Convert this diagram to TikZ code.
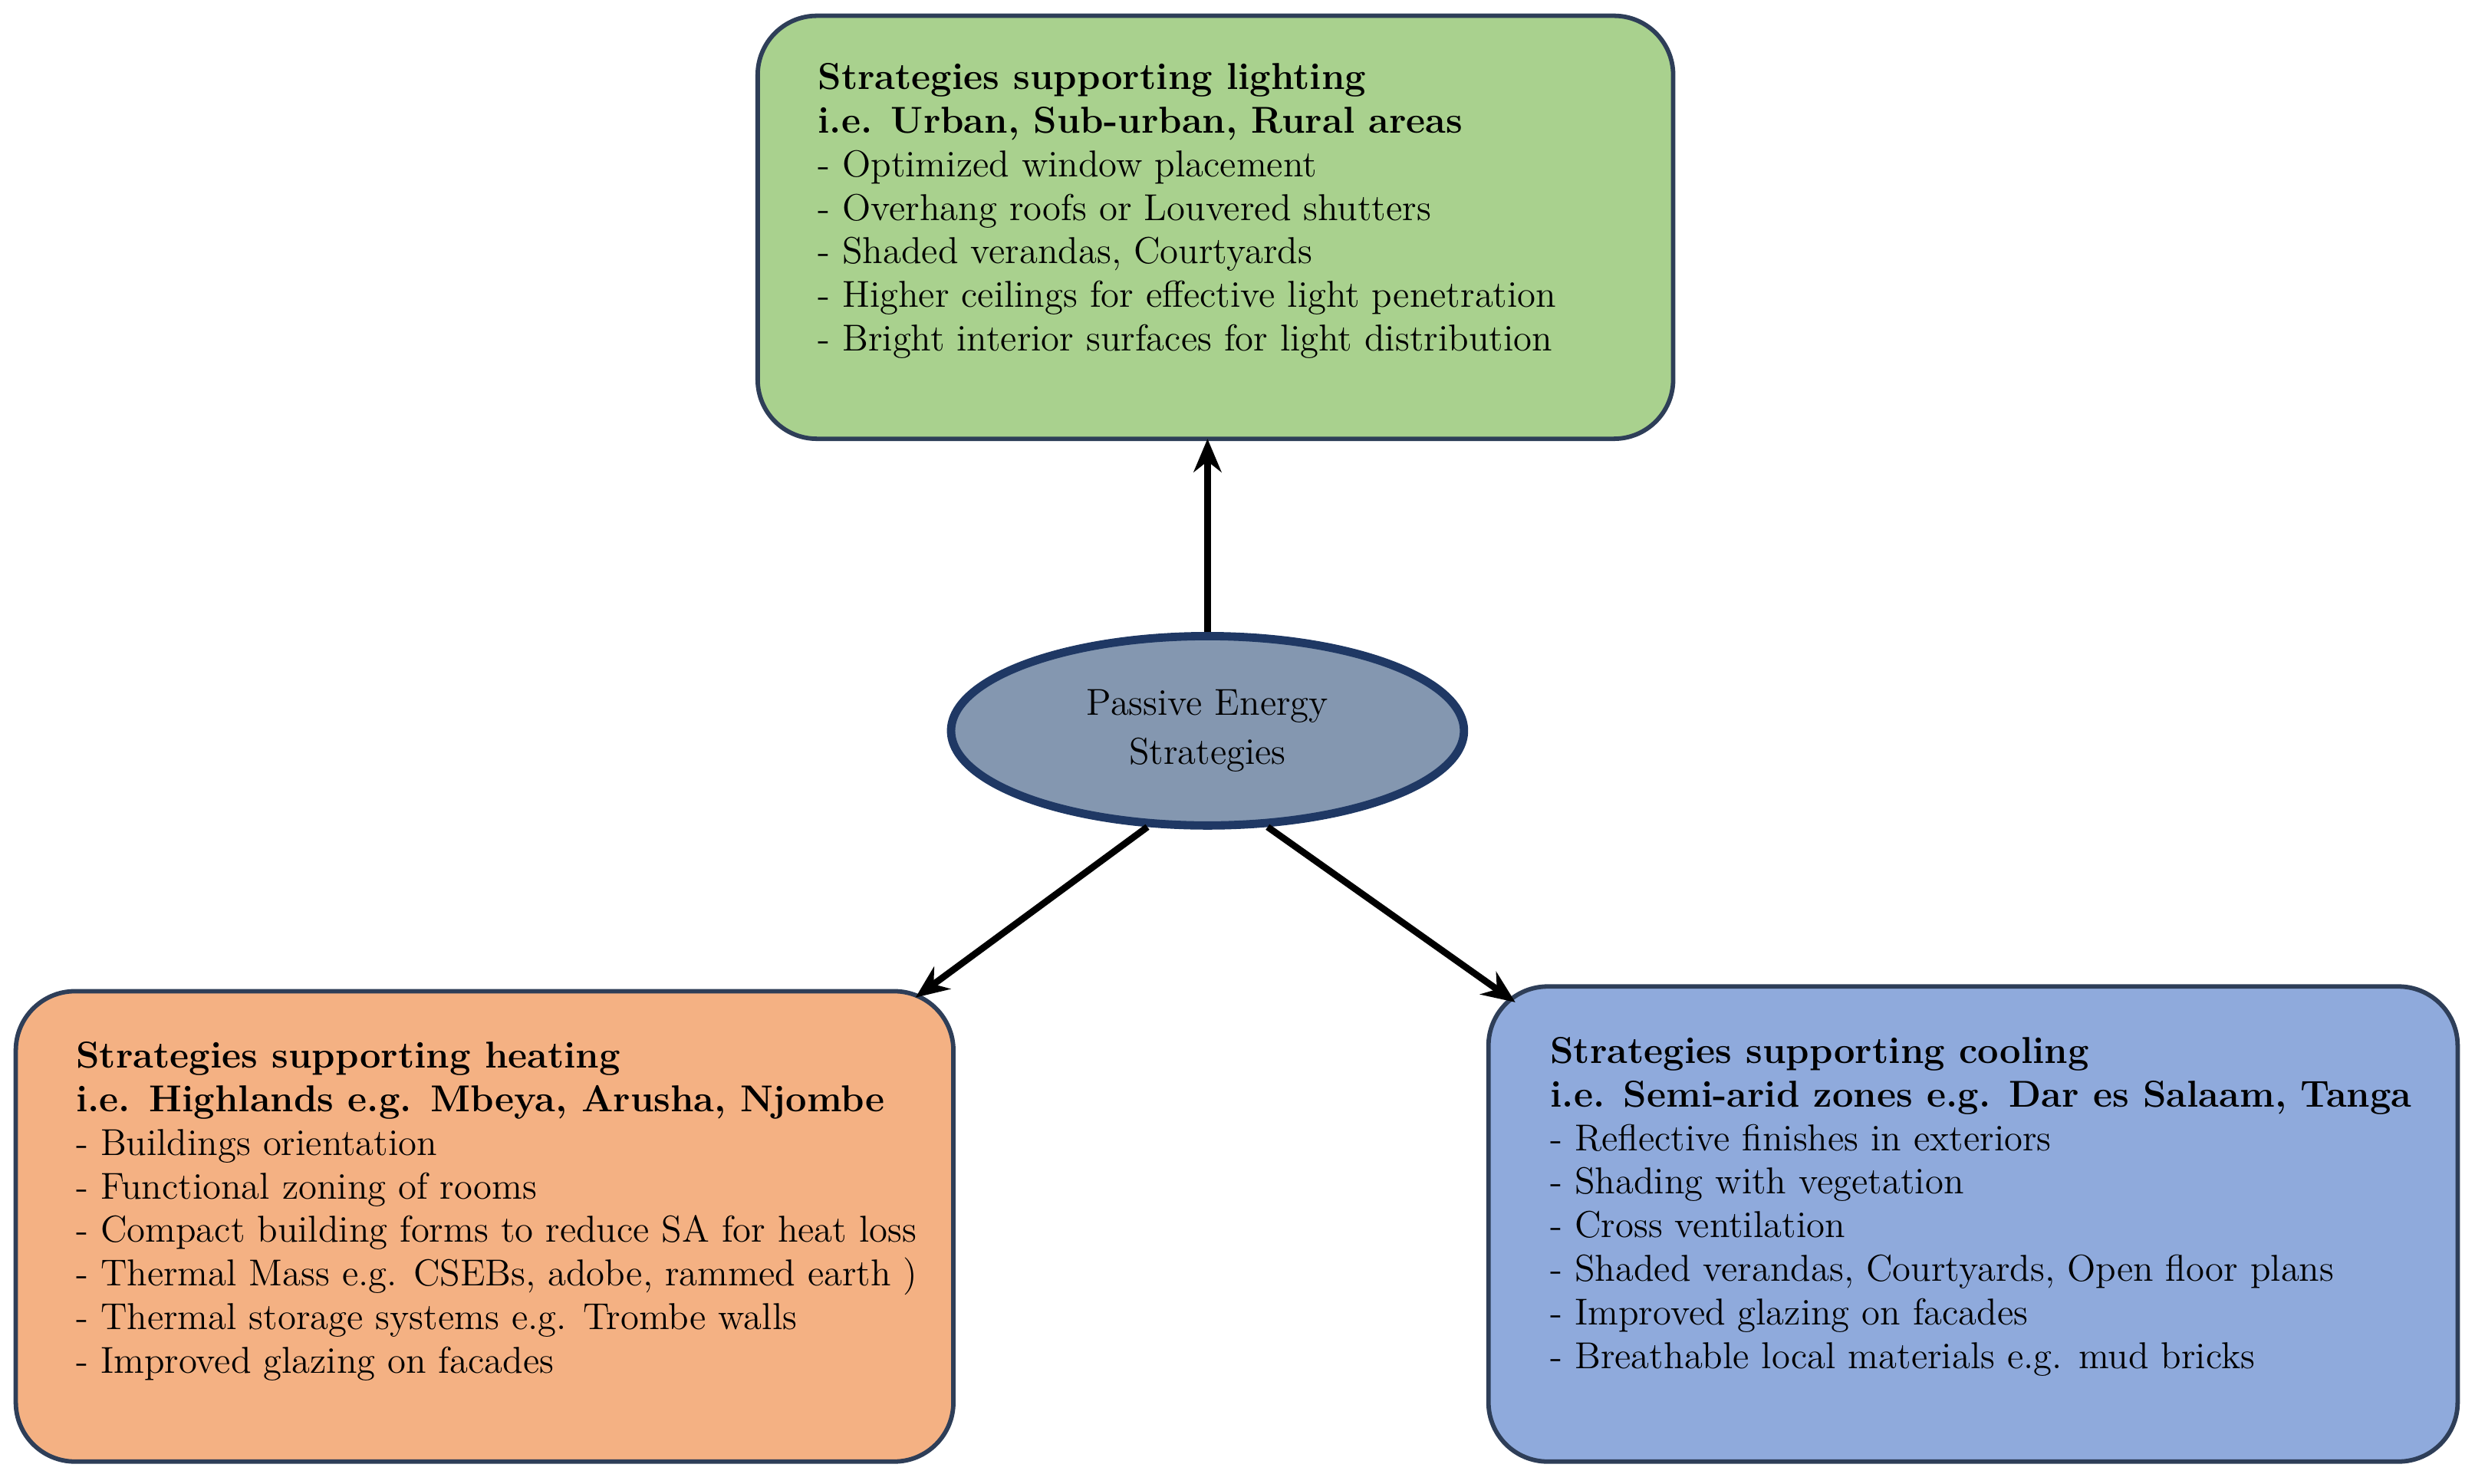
\documentclass[tikz,border=0pt]{standalone}
\usepackage{tikz}
\usetikzlibrary{shapes.geometric, arrows.meta}
\definecolor{boxline}{HTML}{2E3E58}
\definecolor{greenfill}{HTML}{A9D18E}
\definecolor{orangefill}{HTML}{F4B183}
\definecolor{bluefill}{HTML}{8FAADC}
\definecolor{hubfill}{HTML}{8497B0}
\definecolor{hubline}{HTML}{1F3864}
\begin{document}
\begin{tikzpicture}[%
        x=0.02cm, y=-0.02cm,
        strat box/.style = {%
          draw = boxline,
          line width = 1.6pt,
          rounded corners = 0.75cm,
          align = left,
          inner sep = 0pt,
          font = \fontsize{13.5}{17.6}\selectfont,
        },
        hub/.style = {%
          ellipse,
          draw = hubline,
          line width = 3pt,
          fill = hubfill,
          minimum width = 6.5cm,
          minimum height = 2.4cm,
          align = center,
          font = \fontsize{13.5}{17.6}\selectfont,
        },
        link/.style = {-{Stealth[length=12pt,width=10pt]}, line width = 2.4pt},
      ]
      \useasboundingbox (0,0) rectangle (1568,940);
      % boxes
      \draw[strat box, fill=greenfill] (480,10) rectangle (1060,278);
      \node[anchor=north west, align=left, font=\fontsize{13.5}{15.7}\selectfont] (light) at (512,34)
        {\textbf{Strategies supporting lighting}\\
         \textbf{i.e. Urban, Sub-urban, Rural areas}\\
         - Optimized window placement\\
         - Overhang roofs or Louvered shutters\\
         - Shaded verandas, Courtyards\\
         - Higher ceilings for effective light penetration\\
         - Bright interior surfaces for light distribution};
      \draw[strat box, fill=orangefill] (10,628) rectangle (604,926);
      \node[anchor=north west, align=left, font=\fontsize{13.5}{15.7}\selectfont] (heat) at (42,654)
        {\textbf{Strategies supporting heating}\\
         \textbf{i.e. Highlands e.g. Mbeya, Arusha, Njombe}\\
         - Buildings orientation\\
         - Functional zoning of rooms\\
         - Compact building forms to reduce SA for heat loss\\
         - Thermal Mass e.g. CSEBs, adobe, rammed earth )\\
         - Thermal storage systems e.g. Trombe walls\\
         - Improved glazing on facades};
      \draw[strat box, fill=bluefill] (943,625) rectangle (1557,926);
      \node[anchor=north west, align=left, font=\fontsize{13.5}{15.7}\selectfont] (cool) at (976,651)
        {\textbf{Strategies supporting cooling}\\
         \textbf{i.e. Semi-arid zones e.g. Dar es Salaam, Tanga}\\
         - Reflective finishes in exteriors\\
         - Shading with vegetation\\
         - Cross ventilation\\
         - Shaded verandas, Courtyards, Open floor plans\\
         - Improved glazing on facades\\
         - Breathable local materials e.g. mud bricks};
      \coordinate (light top) at (765,278);
      \coordinate (heat top) at (580,632);
      \coordinate (cool top) at (960,635);
      % hub
      \node[hub] (pes) at (765,463) {Passive Energy\\Strategies};
      \draw[link] (pes.north) -- (light top);
      \draw[link] (pes.-122) -- (heat top);
      \draw[link] (pes.-58) -- (cool top);
    \end{tikzpicture}
\end{document}
